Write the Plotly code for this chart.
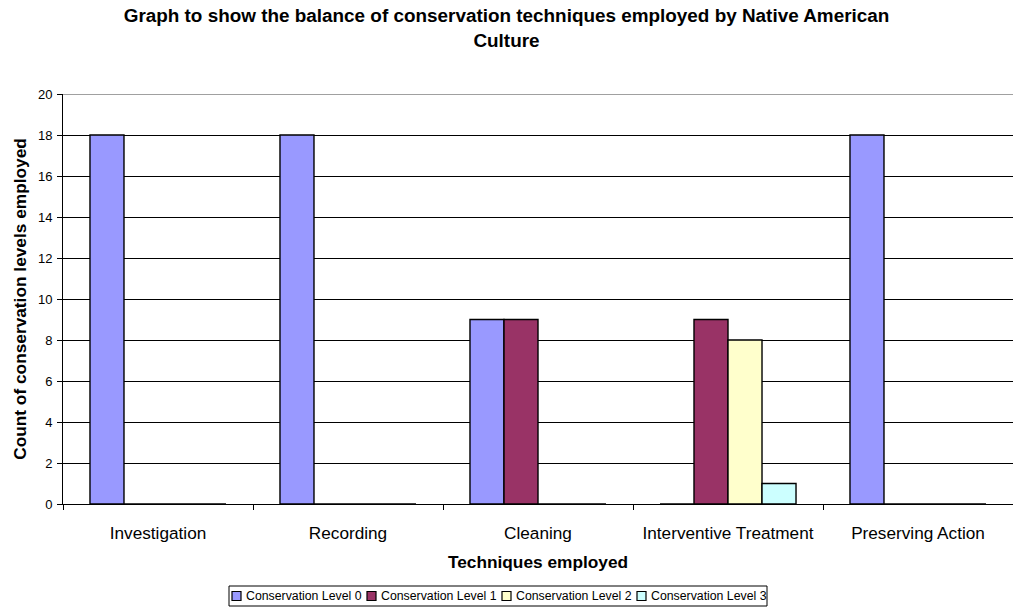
import plotly.graph_objects as go

categories = ["Investigation", "Recording", "Cleaning", "Interventive Treatment", "Preserving Action"]
series_names = ["Conservation Level 0", "Conservation Level 1", "Conservation Level 2", "Conservation Level 3"]
level0 = [18, 18, 9, 0, 18]
level1 = [0, 0, 9, 9, 0]
level2 = [0, 0, 0, 8, 0]
level3 = [0, 0, 0, 1, 0]
colors = ["#9999FF", "#993366", "#FFFFCC", "#CCFFFF"]
y_ticks = [0, 2, 4, 6, 8, 10, 12, 14, 16, 18, 20]

FONT = "Liberation Sans, Arial, sans-serif"
W, H = 1013, 607
ML, MR, MT, MB = 63, 0, 94, 103
PW, PH = W - ML - MR, H - MT - MB


def px_x(px):
    return (px - ML) / PW


def px_y(py):
    return (H - MB - py) / PH


fig = go.Figure()
for name, vals, col in zip(series_names, [level0, level1, level2, level3], colors):
    fig.add_trace(go.Bar(
        x=categories, y=vals, name=name, showlegend=False,
        marker=dict(color=col, line=dict(color="black", width=1.4)),
    ))

fig.update_layout(
    width=W, height=H,
    barmode="group", bargap=0.284, bargroupgap=0,
    paper_bgcolor="white", plot_bgcolor="white",
    font=dict(family=FONT, color="black", size=13),
    margin=dict(l=ML, r=MR, t=MT, b=MB),
    title=dict(
        text="<b>Graph to show the balance of conservation techniques employed by Native American<br>Culture</b>",
        x=0.5, xref="container", xanchor="center",
        y=1 - 22 / 607, yref="container", yanchor="top",
        font=dict(family=FONT, size=18.9, color="black"),
    ),
    xaxis=dict(
        type="category",
        tickson="boundaries", ticks="outside", ticklen=5, tickcolor="black", tickwidth=1,
        showline=True, linecolor="black", linewidth=1,
        showgrid=False,
        ticklabelstandoff=13,
        tickfont=dict(family=FONT, size=17.2, color="black"),
        title=dict(text="<b>Techniques employed</b>", font=dict(family=FONT, size=17.3, color="black"), standoff=14),
    ),
    yaxis=dict(
        range=[0, 20], tickmode="array", tickvals=y_ticks,
        ticks="outside", ticklen=5, tickcolor="black", tickwidth=1,
        showline=True, linecolor="black", linewidth=1,
        showgrid=True, gridcolor="black", gridwidth=1,
        zeroline=False,
        ticklabelstandoff=2,
        tickfont=dict(family=FONT, size=13, color="black"),
        title=dict(text="<b>Count of conservation levels employed</b>", font=dict(family=FONT, size=17.3, color="black"), standoff=6),
    ),
)

# grey top border at y=20
fig.add_shape(type="line", xref="paper", yref="y", x0=0, x1=1, y0=20, y1=20,
              line=dict(color="#808080", width=1.5))

# boxed legend (compact, like the original spreadsheet legend)
fig.add_shape(type="rect", xref="paper", yref="paper",
              x0=px_x(229), x1=px_x(767), y0=px_y(606), y1=px_y(586),
              line=dict(color="black", width=1), fillcolor="white", layer="above")
pitch = 135
for i, (name, col) in enumerate(zip(series_names, colors)):
    sx = 232 + i * pitch
    fig.add_shape(type="rect", xref="paper", yref="paper",
                  x0=px_x(sx), x1=px_x(sx + 9), y0=px_y(600.5), y1=px_y(591.5),
                  line=dict(color="black", width=1.2), fillcolor=col, layer="above")
    fig.add_annotation(xref="paper", yref="paper", x=px_x(sx + 11.5), y=px_y(596),
                       xanchor="left", yanchor="middle", showarrow=False,
                       text=name, font=dict(family=FONT, size=12.3, color="black"))

fig.write_html("out.html", config={"displayModeBar": False},
               post_script="document.body.style.margin='0px';document.body.style.overflow='hidden';")
